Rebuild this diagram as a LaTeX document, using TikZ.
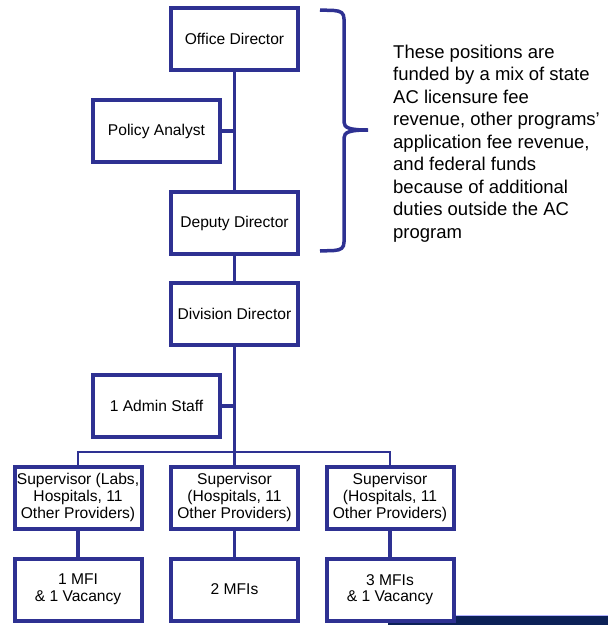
\documentclass[tikz,border=0pt]{standalone}
\usepackage{fontspec}
\setmainfont{Liberation Sans}
\definecolor{boxblue}{HTML}{2E3192}
\definecolor{barnavy}{HTML}{0C2157}
\begin{document}
\begin{tikzpicture}[x=1pt,y=-1pt,
  orgbox/.style={draw=boxblue, line width=4pt, fill=white, minimum width=127pt, minimum height=62pt,
    inner sep=0pt, align=center, font=\fontsize{15.6}{16.6}\selectfont},
  conn/.style={draw=boxblue, line width=3.5pt},
  busline/.style={draw=boxblue, line width=2.5pt}]
\useasboundingbox (0,0) rectangle (608,625);
\fill[barnavy] (388,615) rectangle (608,625);
\draw[blue!30, line width=0.6pt] (388,615.3) -- (608,615.3);
% boxes
\node[orgbox] (od) at (234.5,39) {Office Director};
\node[orgbox] (pa) at (156.5,131) {Policy Analyst};
\node[orgbox] (dd) at (234.5,223) {Deputy Director};
\node[orgbox] (dv) at (234.5,314) {Division Director};
\node[orgbox] (as) at (156.5,406) {1 Admin Staff};
\node[orgbox] (s1) at (78,497.5) {Supervisor (Labs,\\Hospitals, 11\\Other Providers)};
\node[orgbox] (s2) at (234.5,497.5) {Supervisor\\(Hospitals, 11\\Other Providers)};
\node[orgbox] (s3) at (390,497.5) {Supervisor\\(Hospitals, 11\\Other Providers)};
\node[orgbox] (m1) at (78,589.5) {1 MFI\\\& 1 Vacancy};
\node[orgbox] (m2) at (234.5,589.5) {2 MFIs};
\node[orgbox] (m3) at (390,589.5) {3 MFIs\\\& 1 Vacancy};
% connectors
\draw[conn] (od.south) -- (dd.north);
\draw[conn] (pa.east) -- (pa.east -| od.south);
\draw[conn] (dd.south) -- (dv.north);
\draw[conn] (dv.south) -- (s2.north);
\draw[conn] (as.east) -- (as.east -| dv.south);
\coordinate (bus) at (234.5,452);
\draw[busline] (s1.north) |- (bus) -| (s3.north);
\draw[conn] (s1.south) -- (m1.north);
\draw[conn] (s2.south) -- (m2.north);
\draw[conn] (s3.south) -- (m3.north);
% brace
\coordinate (btop) at (320,10);
\coordinate (bbot) at (320,251);
\coordinate (btip) at (368,130);
\draw[draw=boxblue, line width=3.5pt]
  (btop) -- (334,10.5) .. controls (341,11) and (344,13) .. (344,19)
  -- (344,122) .. controls (344,128) and (350,130) .. (btip);
\draw[draw=boxblue, line width=3.5pt]
  (bbot) -- (334,250.5) .. controls (341,250) and (344,248) .. (344,242)
  -- (344,138) .. controls (344,132) and (350,130) .. (btip);
% note
\node[anchor=north west, inner sep=0pt, align=left, font=\fontsize{18.5}{22.5}\selectfont] (note) at (393,44.5)
  {These positions are\\funded by a mix of state\\AC licensure fee\\revenue, other programs’\\application fee revenue,\\and federal funds\\because of additional\\duties outside the AC\\program};
\end{tikzpicture}
\end{document}
